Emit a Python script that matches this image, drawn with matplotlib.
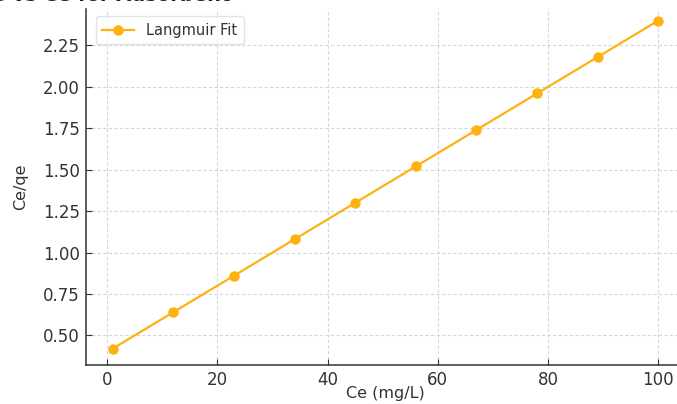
import matplotlib
matplotlib.use("Agg")
import matplotlib.pyplot as plt

ce = [1, 12, 23, 34, 45, 56, 67, 78, 89, 100]
ce_qe = [0.42, 0.64, 0.86, 1.08, 1.30, 1.52, 1.74, 1.96, 2.18, 2.40]
series_label = "Langmuir Fit"
x_label = "Ce (mg/L)"
y_label = "Ce/qe"
title_text = "Langmuir Isotherm: Ce/qe vs Ce for Adsorbent"

color = "#FFB10F"

fig = plt.figure(figsize=(6.77, 4.04), dpi=100)
ax = fig.add_axes([85.5 / 677, 39 / 404, 600 / 677, 356 / 404])
ax.plot(ce, ce_qe, color=color, marker="o", markersize=6.5, linewidth=1.6, label=series_label)

ax.set_xticks([0, 20, 40, 60, 80, 100])
ax.set_yticks([0.5, 0.75, 1.0, 1.25, 1.5, 1.75, 2.0, 2.25])
ax.set_xlim(-3.95, 104.95)
ax.set_ylim(0.321, 2.47)

ax.grid(True, linestyle=(0, (3, 2)), color="#d6d6d6", linewidth=0.8)
for s in ["top", "right"]:
    ax.spines[s].set_visible(False)
for s in ["left", "bottom"]:
    ax.spines[s].set_color("#333333")
    ax.spines[s].set_linewidth(1.1)
ax.tick_params(direction="in", length=4, colors="#333333", labelsize=12, labelcolor="#333333", pad=4)
ax.set_xlabel(x_label, fontsize=11.5, color="#333333", labelpad=-1.5)
ax.set_ylabel(y_label, fontsize=11.5, color="#333333", labelpad=11)

leg = ax.legend(loc="upper left", fontsize=10.5, frameon=True, borderpad=0.45,
                handlelength=2.2, bbox_to_anchor=(0.005, 1.0))
leg.get_frame().set_edgecolor("#dddddd")
for t in leg.get_texts():
    t.set_color("#333333")

fig.text(230 / 677, 1 - 0.6 / 404, title_text, fontsize=14, fontweight="bold",
         va="baseline", ha="right", color="#222222")

fig.savefig("out.png", dpi=100)
